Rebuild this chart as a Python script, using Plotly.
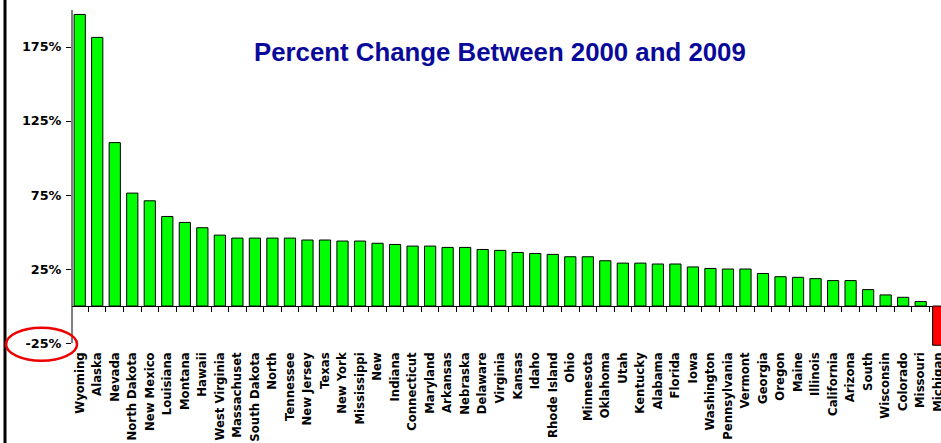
import plotly.graph_objects as go

states = ["Wyoming", "Alaska", "Nevada", "North Dakota", "New Mexico", "Louisiana", "Montana",
          "Hawaii", "West Virginia", "Massachuset", "South Dakota", "North", "Tennessee",
          "New Jersey", "Texas", "New York", "Mississippi", "New", "Indiana", "Connecticut",
          "Maryland", "Arkansas", "Nebraska", "Delaware", "Virginia", "Kansas", "Idaho",
          "Rhode Island", "Ohio", "Minnesota", "Oklahoma", "Utah", "Kentucky", "Alabama",
          "Florida", "Iowa", "Washington", "Pennsylvania", "Vermont", "Georgia", "Oregon",
          "Maine", "Illinois", "California", "Arizona", "South", "Wisconsin", "Colorado",
          "Missouri", "Michigan"]
pct_change = [197.0, 181.5, 110.4, 76.3, 71.1, 60.5, 56.5,
              52.9, 47.9, 45.9, 45.9, 45.9, 45.9,
              44.6, 44.6, 43.9, 43.9, 42.4, 41.6, 40.5,
              40.5, 39.6, 39.6, 38.2, 37.6, 36.2, 35.5,
              34.9, 33.3, 33.3, 30.6, 29.0, 29.0, 28.4,
              28.4, 26.4, 25.4, 25.0, 25.0, 22.0, 19.8,
              19.4, 18.5, 17.2, 17.2, 11.1, 7.5, 5.9,
              3.0, -26.5]
y_tick_vals = [-25, 25, 75, 125, 175]
y_tick_text = ["-25%", "25%", "75%", "125%", "175%"]
title_text = "Percent Change Between 2000 and 2009"

colors = ["#00FF00" if v >= 0 else "#FF0000" for v in pct_change]

fig = go.Figure()
fig.add_trace(go.Bar(
    x=states, y=pct_change, width=0.64,
    marker=dict(color=colors, line=dict(color="#000000", width=1)),
    showlegend=False,
))
# invisible helper trace for the tick marks along the zero line
fig.add_trace(go.Scatter(
    x=states, y=[0] * len(states), xaxis="x2", mode="markers",
    marker=dict(opacity=0), hoverinfo="skip", showlegend=False,
))

ymin, ymax = -27, 200
xrange_ = [-0.44, 49.16]
zero_pos = (0 - ymin) / (ymax - ymin)

fig.update_layout(
    width=941, height=443,
    margin=dict(l=72, r=0, t=10, b=97, autoexpand=False),
    paper_bgcolor="white", plot_bgcolor="white",
    font=dict(family="DejaVu Sans", color="black"),
    xaxis=dict(
        type="category", range=xrange_, showgrid=False, showline=False,
        ticks="", tickangle=-90, zeroline=False, ticklabelstandoff=3,
        automargin=False,
        tickfont=dict(family="DejaVu Sans", size=11.7, color="black", weight="bold"),
    ),
    xaxis2=dict(
        type="category", range=xrange_, overlaying="x", anchor="free",
        position=zero_pos, showgrid=False, showline=False, showticklabels=False,
        ticks="outside", tickson="boundaries", ticklen=5, tickcolor="black",
        tickwidth=1, zeroline=False, automargin=False,
    ),
    yaxis=dict(
        range=[ymin, ymax], showgrid=False, showline=False,
        tickvals=y_tick_vals, ticktext=y_tick_text,
        ticks="outside", ticklen=5, tickcolor="black", tickwidth=1,
        ticklabelstandoff=2, automargin=False,
        zeroline=True, zerolinecolor="black", zerolinewidth=1,
        tickfont=dict(family="DejaVu Sans", size=12.8, color="black", weight="bold"),
    ),
    shapes=[
        # y axis line from -25% to top
        dict(type="line", xref="paper", yref="y", x0=0, x1=0, y0=-25, y1=ymax,
             line=dict(color="black", width=1)),
        # slide frame line at the far left
        dict(type="line", xref="paper", yref="paper", x0=-0.0771, x1=-0.0771,
             y0=-0.35, y1=1.1, line=dict(color="black", width=3)),
        # red ellipse around -25%
        dict(type="circle", xref="paper", yref="paper",
             x0=-0.0759, x1=0.0058, y0=-0.0437, y1=0.0544,
             line=dict(color="#EE0000", width=2.5)),
    ],
    annotations=[
        dict(text=title_text, xref="paper", yref="paper", x=0.492, y=0.8736,
             xanchor="center", yanchor="middle", showarrow=False,
             font=dict(family="Liberation Sans, Arial", size=25.8, color="#0A0A9A",
                       weight="bold")),
    ],
)

fig.write_html("out.html", config={"displayModeBar": False},
               post_script="document.body.style.margin='0';document.body.style.overflow='hidden';")
